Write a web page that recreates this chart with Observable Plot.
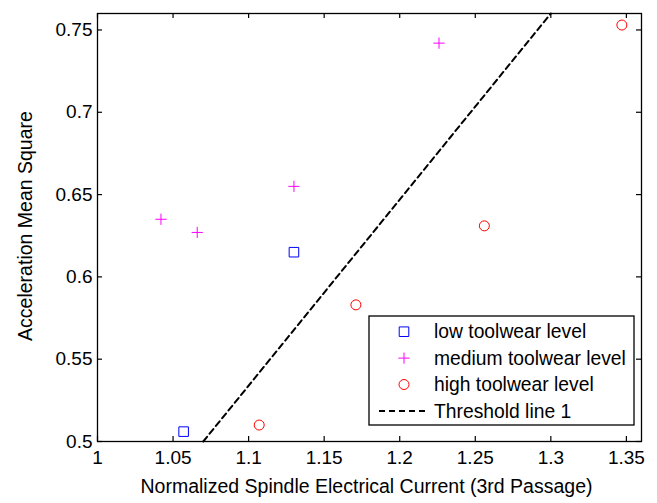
<!DOCTYPE html>
<html>
<head>
<meta charset="utf-8">
<script src="https://cdn.jsdelivr.net/npm/d3@7"></script>
<script src="https://cdn.jsdelivr.net/npm/@observablehq/plot@0.6"></script>
<style>
  html, body { margin: 0; padding: 0; background: white; }
  #chart { width: 657px; height: 503px; }
</style>
</head>
<body>
<div id="chart"></div>
<script>
// ---- data ----
const lowX = [1.057, 1.130];
const lowY = [0.506, 0.615];
const medX = [1.042, 1.066, 1.130, 1.226];
const medY = [0.635, 0.627, 0.655, 0.742];
const highX = [1.107, 1.171, 1.256, 1.347];
const highY = [0.510, 0.583, 0.631, 0.753];
const thrX = [1.07, 1.30];
const thrY = [0.50, 0.76];
const xTicks = [1, 1.05, 1.1, 1.15, 1.2, 1.25, 1.3, 1.35];
const xTickLabels = ["1", "1.05", "1.1", "1.15", "1.2", "1.25", "1.3", "1.35"];
const yTicks = [0.5, 0.55, 0.6, 0.65, 0.7, 0.75];
const yTickLabels = ["0.5", "0.55", "0.6", "0.65", "0.7", "0.75"];
const seriesNames = ["low toolwear level", "medium toolwear level", "high toolwear level", "Threshold line 1"];
const xLabel = "Normalized Spindle Electrical Current (3rd Passage)";
const yLabel = "Acceleration Mean Square";

const pts = (xs, ys) => xs.map((x, i) => ({x, y: ys[i]}));

const W = 657, H = 503, ML = 97, MR = 16, MT = 13, MB = 62;
const innerW = W - ML - MR, innerH = H - MT - MB, tk = 5;
const font = "'Liberation Sans', Arial, Helvetica, sans-serif";

const chart = Plot.plot({
  width: W, height: H,
  marginLeft: ML, marginRight: MR, marginTop: MT, marginBottom: MB,
  style: {fontFamily: font, fontSize: "19px", color: "black", background: "white"},
  x: {domain: [1, 1.36]},
  y: {domain: [0.5, 0.76]},
  marks: [
    Plot.axisX({ticks: xTicks, tickSize: 0, tickPadding: 9, tickFormat: d => xTickLabels[xTicks.indexOf(d)], fontSize: 19, label: null}),
    Plot.axisY({ticks: yTicks, tickSize: 0, tickPadding: 5, tickFormat: d => yTickLabels[yTicks.indexOf(d)], fontSize: 19, label: null}),
    Plot.tickX(xTicks, {x: d => d, insetTop: innerH - tk, stroke: "black", strokeWidth: 1.2}),
    Plot.tickX(xTicks, {x: d => d, insetBottom: innerH - tk, stroke: "black", strokeWidth: 1.2}),
    Plot.tickY(yTicks, {y: d => d, insetRight: innerW - tk, stroke: "black", strokeWidth: 1.2}),
    Plot.tickY(yTicks, {y: d => d, insetLeft: innerW - tk, stroke: "black", strokeWidth: 1.2}),
    Plot.line(pts(thrX, thrY), {x: "x", y: "y", stroke: "black", strokeWidth: 2, strokeDasharray: "6,4"}),
    Plot.dot(pts(lowX, lowY), {x: "x", y: "y", symbol: "square", r: 5.4, stroke: "#0000ff", strokeWidth: 1}),
    Plot.dot(pts(medX, medY), {x: "x", y: "y", symbol: "plus", r: 3.7, stroke: "#ff00ff", strokeWidth: 1}),
    Plot.dot(pts(highX, highY), {x: "x", y: "y", symbol: "circle", r: 5, stroke: "#ff0000", strokeWidth: 1}),
    Plot.frame({stroke: "black", strokeWidth: 1.3}),
    Plot.text([xLabel], {frameAnchor: "bottom", dx: -3, dy: 51.5, fontSize: 19.5, fill: "black", textAnchor: "middle"}),
    Plot.text([yLabel], {frameAnchor: "left", dx: -72, dy: -1.5, rotate: -90, fontSize: 19.5, fill: "black", textAnchor: "middle"})
  ]
});
document.getElementById("chart").appendChild(chart);

// ---- legend (inside the SVG, box top-left at 369,316) ----
const svg = d3.select(chart);
const lg = svg.append("g").attr("transform", "translate(369,316)");
lg.append("rect").attr("width", 265).attr("height", 109)
  .attr("fill", "white").attr("stroke", "black").attr("stroke-width", 1.3);
const rowY = i => 15.7 + i * 26.4;
const symX = 35;
lg.append("path").attr("transform", `translate(${symX},${rowY(0)})`)
  .attr("d", d3.symbol(d3.symbolSquare, Math.PI * 5.4 * 5.4)()).attr("fill", "none").attr("stroke", "#0000ff");
lg.append("path").attr("transform", `translate(${symX},${rowY(1)})`)
  .attr("d", d3.symbol(d3.symbolPlus, Math.PI * 3.7 * 3.7)()).attr("fill", "none").attr("stroke", "#ff00ff");
lg.append("path").attr("transform", `translate(${symX},${rowY(2)})`)
  .attr("d", d3.symbol(d3.symbolCircle, Math.PI * 5 * 5)()).attr("fill", "none").attr("stroke", "#ff0000");
lg.append("line").attr("x1", 10).attr("x2", 58).attr("y1", rowY(3)).attr("y2", rowY(3))
  .attr("stroke", "black").attr("stroke-width", 2).attr("stroke-dasharray", "6,4");
seriesNames.forEach((s, i) => {
  lg.append("text").attr("x", 65).attr("y", rowY(i)).attr("dy", "0.35em")
    .attr("text-anchor", "start")
    .attr("font-family", font).attr("font-size", 19.3).attr("fill", "black").text(s);
});
</script>
</body>
</html>
